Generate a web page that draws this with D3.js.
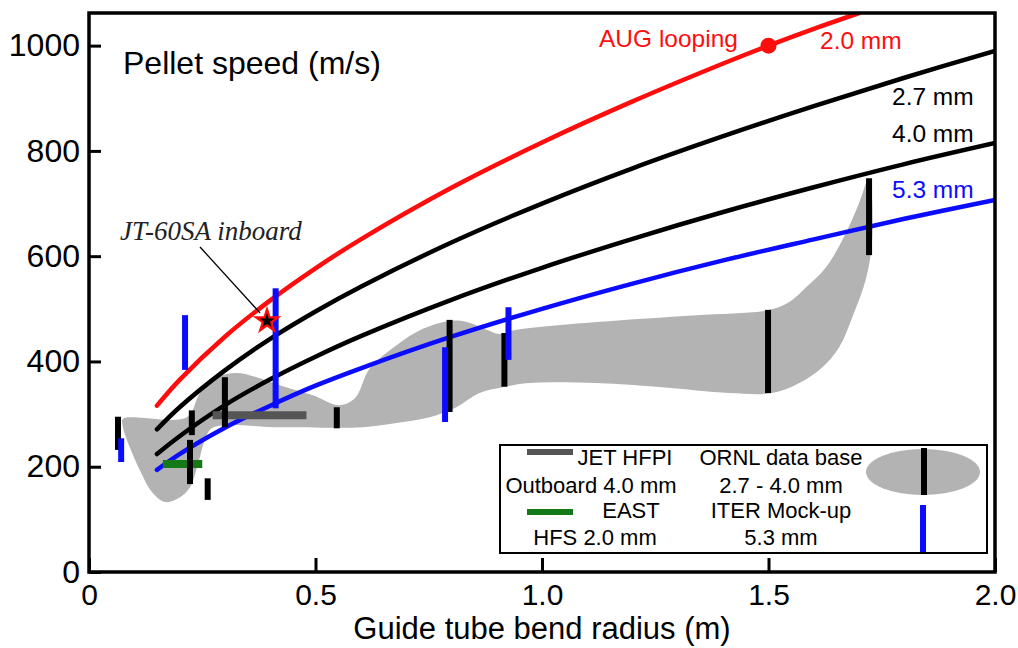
<!DOCTYPE html>
<html>
<head>
<meta charset="utf-8">
<script src="https://cdn.jsdelivr.net/npm/d3@7"></script>
<style>
  html, body { margin: 0; padding: 0; background: #fff; }
  svg { display: block; font-family: "Liberation Sans", Arial, sans-serif; }
</style>
</head>
<body>
<svg id="chart" width="1018" height="648"></svg>
<script>
// ---- Speed-limit curves: pellet speed (m/s) vs guide tube bend radius (m) ----
const radius20 = [0.15, 0.2, 0.3, 0.4, 0.5, 0.6, 0.8, 1.0, 1.2, 1.4, 1.5, 1.6, 1.7];
const speed20  = [316, 365, 447, 516, 577, 632, 730, 816, 894, 966, 1000, 1032, 1062];

const radiusGrid = [0.15, 0.2, 0.3, 0.4, 0.5, 0.6, 0.8, 1.0, 1.2, 1.4, 1.6, 1.8, 2.0];
const speed27 = [271, 313, 383, 443, 495, 542, 626, 700, 767, 828, 885, 939, 990];
const speed40 = [224, 258, 317, 366, 409, 448, 517, 578, 633, 684, 731, 775, 815];
const speed53 = [194, 224, 274, 316, 354, 387, 447, 500, 548, 592, 632, 671, 707];

// ---- ORNL data base envelope (2.7 - 4.0 mm), outline radius / speed ----
const bandRadius = [0.075, 0.216, 0.245, 0.282, 0.326, 0.370, 0.421, 0.494, 0.553, 0.587, 0.620, 0.679,
  0.737, 0.796, 0.834, 0.878, 0.906, 0.944, 1.120, 1.341, 1.502, 1.546, 1.583, 1.627, 1.671, 1.700, 1.722,
  1.729, 1.716, 1.685, 1.656, 1.619, 1.568, 1.508,
  1.413, 1.266, 1.120, 0.972, 0.913, 0.862, 0.811, 0.752, 0.679, 0.604, 0.547, 0.421, 0.273,
  0.256, 0.240, 0.223, 0.201, 0.168, 0.139, 0.112, 0.090, 0.075];
const bandSpeed = [291, 294, 340, 370, 378, 370, 355, 336, 317, 330, 387, 431,
  462, 477, 475, 460, 452, 460, 475, 488, 498, 513, 541, 579, 644, 701, 748,
  636, 560, 484, 427, 389, 359, 340,
  340, 351, 359, 359, 351, 340, 313, 294, 283, 275, 274, 275, 274,
  251, 203, 161, 142, 133, 152, 194, 237, 275];

// ---- ORNL measured ranges (black bars) ----
const ornlRadius = [0.064, 0.227, 0.223, 0.262, 0.300, 0.547, 0.796, 0.917, 1.499, 1.722];
const ornlLow    = [232, 260, 167, 137, 275, 273, 304, 352, 340, 602];
const ornlHigh   = [295, 307, 251, 178, 370, 313, 479, 454, 498, 748];

// ---- ITER mock-up measured ranges (blue bars) ----
const iterRadius = [0.071, 0.212, 0.412, 0.786, 0.926];
const iterLow    = [209, 384, 311, 285, 403];
const iterHigh   = [254, 488, 539, 427, 503];

// ---- Single experiments ----
const jetRadius = [0.273, 0.48];   const jetSpeed = 298;   // JET HFPI outboard 4.0 mm
const eastRadius = [0.163, 0.25];  const eastSpeed = 205;  // EAST HFS 2.0 mm
const jt60Radius = 0.393;          const jt60Speed = 477;  // JT-60SA inboard
const augRadius = 1.5;             const augSpeed = 1000;  // AUG looping

const xTicks = [0, 0.5, 1.0, 1.5, 2.0];
const xTickLabels = ["0", "0.5", "1.0", "1.5", "2.0"];
const yTicks = [0, 200, 400, 600, 800, 1000];

// ---- Layout ----
const W = 1018, H = 648;
const M = { left: 89, top: 13, right: 23, bottom: 76 };
const plotW = W - M.left - M.right, plotH = H - M.top - M.bottom;

const RED = "#ff0d0d", BLUE = "#0b0bff", BAND = "#b3b3b3", JET = "#555555", GREEN = "#137a17";

const svg = d3.select("#chart");
const x = d3.scaleLinear().domain([0, 2]).range([M.left, M.left + plotW]);
const y = d3.scaleLinear().domain([0, 1062]).range([M.top + plotH, M.top]);

svg.append("defs").append("clipPath").attr("id", "plotClip")
  .append("rect").attr("x", M.left).attr("y", M.top).attr("width", plotW).attr("height", plotH);

const plot = svg.append("g").attr("clip-path", "url(#plotClip)");

// envelope
const bandPts = bandRadius.map((r, i) => [x(r), y(bandSpeed[i])]);
plot.append("path")
  .attr("d", d3.line().curve(d3.curveCatmullRomClosed.alpha(0.5))(bandPts))
  .attr("fill", BAND);

// speed-limit curves
const curve = d3.line().curve(d3.curveCatmullRom.alpha(0.5));
function drawCurve(xs, vs, color) {
  plot.append("path")
    .attr("d", curve(xs.map((r, i) => [x(r), y(vs[i])])))
    .attr("fill", "none").attr("stroke", color).attr("stroke-width", 4.5)
    .attr("stroke-linecap", "round");
}
drawCurve(radius20, speed20, RED);
drawCurve(radiusGrid, speed27, "#000");
drawCurve(radiusGrid, speed40, "#000");
drawCurve(radiusGrid, speed53, BLUE);

// JET and EAST horizontal bars
plot.append("line")
  .attr("x1", x(jetRadius[0])).attr("x2", x(jetRadius[1]))
  .attr("y1", y(jetSpeed)).attr("y2", y(jetSpeed))
  .attr("stroke", JET).attr("stroke-width", 8);
plot.append("line")
  .attr("x1", x(eastRadius[0])).attr("x2", x(eastRadius[1]))
  .attr("y1", y(eastSpeed)).attr("y2", y(eastSpeed))
  .attr("stroke", GREEN).attr("stroke-width", 8);

// ORNL and ITER vertical range bars
plot.selectAll("line.ornl").data(ornlRadius).join("line").attr("class", "ornl")
  .attr("x1", d => x(d)).attr("x2", d => x(d))
  .attr("y1", (d, i) => y(ornlLow[i])).attr("y2", (d, i) => y(ornlHigh[i]))
  .attr("stroke", "#000").attr("stroke-width", 6);
plot.selectAll("line.iter").data(iterRadius).join("line").attr("class", "iter")
  .attr("x1", d => x(d)).attr("x2", d => x(d))
  .attr("y1", (d, i) => y(iterLow[i])).attr("y2", (d, i) => y(iterHigh[i]))
  .attr("stroke", BLUE).attr("stroke-width", 6);

// AUG looping point
plot.append("circle").attr("cx", x(augRadius)).attr("cy", y(augSpeed)).attr("r", 8).attr("fill", RED);

// JT-60SA annotation
const sx = x(jt60Radius), sy = y(jt60Speed);
svg.append("line")
  .attr("x1", 200).attr("y1", 247).attr("x2", sx - 7).attr("y2", sy - 8)
  .attr("stroke", "#000").attr("stroke-width", 1.3);
svg.append("path").attr("transform", `translate(${sx},${sy})`)
  .attr("d", d3.symbol(d3.symbolStar, 260)()).attr("fill", RED);
svg.append("path").attr("transform", `translate(${sx},${sy})`)
  .attr("d", d3.symbol(d3.symbolStar, 70)()).attr("fill", "#000");
svg.append("text").attr("x", 120).attr("y", 240)
  .attr("font-family", "'Liberation Serif', 'Times New Roman', serif")
  .attr("font-style", "italic").attr("font-size", 27).attr("fill", "#222")
  .text("JT-60SA inboard");

// axes
const yAxis = d3.axisLeft(y).tickValues(yTicks).tickSize(-12).tickPadding(9).tickFormat(d3.format("d"));
const gy = svg.append("g").attr("transform", `translate(${M.left},0)`).call(yAxis);
gy.select(".domain").remove();
gy.selectAll(".tick line").attr("stroke", "#000").attr("stroke-width", 3);
gy.selectAll(".tick text").attr("font-size", 32).attr("fill", "#000")
  .attr("font-family", "'Liberation Sans', Arial, sans-serif");

const xAxis = d3.axisBottom(x).tickValues(xTicks).tickSize(-14).tickPadding(12)
  .tickFormat((d, i) => xTickLabels[i]);
const gx = svg.append("g").attr("transform", `translate(0,${M.top + plotH})`).call(xAxis);
gx.select(".domain").remove();
gx.selectAll(".tick line").attr("stroke", "#000").attr("stroke-width", 3);
gx.selectAll(".tick text").attr("font-size", 30).attr("fill", "#000")
  .attr("font-family", "'Liberation Sans', Arial, sans-serif");

// frame
svg.append("rect").attr("x", M.left).attr("y", M.top).attr("width", plotW).attr("height", plotH)
  .attr("fill", "none").attr("stroke", "#000").attr("stroke-width", 3.5);

// titles
svg.append("text").attr("x", x(1.0)).attr("y", 639).attr("text-anchor", "middle")
  .attr("font-size", 31).attr("fill", "#000").text("Guide tube bend radius (m)");
svg.append("text").attr("x", 123).attr("y", 74)
  .attr("font-size", 32).attr("fill", "#000").text("Pellet speed (m/s)");

// curve labels
svg.append("text").attr("x", 599).attr("y", 47).attr("font-size", 24.5).attr("fill", RED).text("AUG looping");
svg.append("text").attr("x", 820).attr("y", 49).attr("font-size", 24.5).attr("fill", RED).text("2.0 mm");
svg.append("text").attr("x", 892).attr("y", 105).attr("font-size", 24.5).attr("fill", "#000").text("2.7 mm");
svg.append("text").attr("x", 892).attr("y", 142).attr("font-size", 24.5).attr("fill", "#000").text("4.0 mm");
svg.append("text").attr("x", 892).attr("y", 198).attr("font-size", 24.5).attr("fill", BLUE).text("5.3 mm");

// legend
const lg = svg.append("g").attr("transform", "translate(500,445)");
lg.append("rect").attr("width", 487).attr("height", 108)
  .attr("fill", "#fff").attr("stroke", "#000").attr("stroke-width", 2);
lg.append("line").attr("x1", 27).attr("x2", 73).attr("y1", 7).attr("y2", 7)
  .attr("stroke", JET).attr("stroke-width", 6);
lg.append("line").attr("x1", 27).attr("x2", 73).attr("y1", 67).attr("y2", 67)
  .attr("stroke", GREEN).attr("stroke-width", 6);
const legendText = [
  { t: "JET HFPI", x: 125, y: 20 },
  { t: "Outboard 4.0 mm", x: 91, y: 48 },
  { t: "EAST", x: 131, y: 73 },
  { t: "HFS 2.0 mm", x: 95, y: 100 },
  { t: "ORNL data base", x: 281, y: 20 },
  { t: "2.7 - 4.0 mm", x: 281, y: 48 },
  { t: "ITER Mock-up", x: 281, y: 73 },
  { t: "5.3 mm", x: 281, y: 100 }
];
lg.selectAll("text.lt").data(legendText).join("text").attr("class", "lt")
  .attr("x", d => d.x).attr("y", d => d.y).attr("text-anchor", "middle")
  .attr("font-size", 22).attr("fill", "#000").text(d => d.t);
lg.append("ellipse").attr("cx", 423).attr("cy", 27).attr("rx", 57).attr("ry", 23).attr("fill", BAND);
lg.append("line").attr("x1", 424).attr("x2", 424).attr("y1", 3).attr("y2", 50)
  .attr("stroke", "#000").attr("stroke-width", 6);
lg.append("line").attr("x1", 423).attr("x2", 423).attr("y1", 60).attr("y2", 107)
  .attr("stroke", BLUE).attr("stroke-width", 6);
</script>
</body>
</html>
